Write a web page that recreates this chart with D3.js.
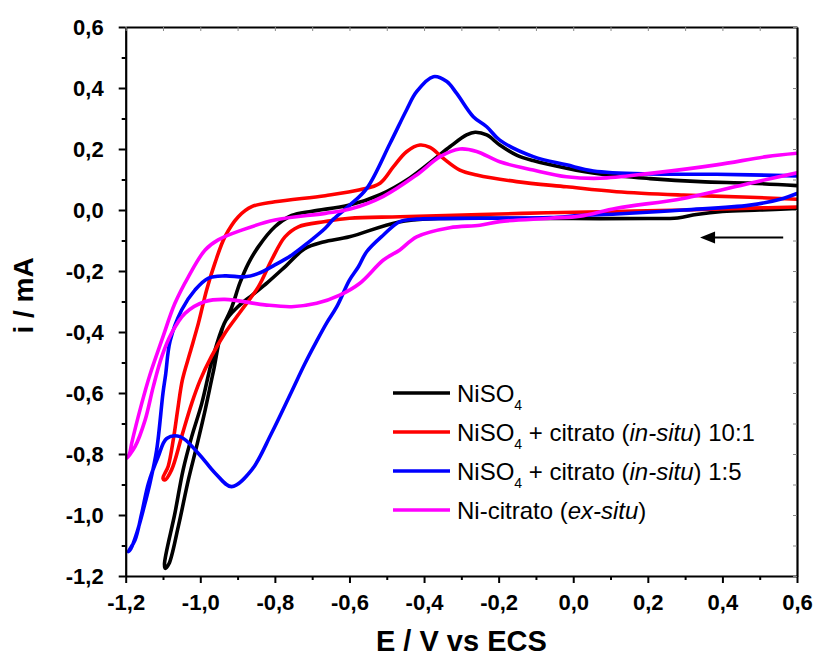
<!DOCTYPE html>
<html><head><meta charset="utf-8">
<script src="https://cdn.jsdelivr.net/npm/d3@7"></script>
<style>
html,body{margin:0;padding:0;background:#fff;}
svg{display:block;}
</style></head>
<body>
<svg id="chart" width="819" height="662"></svg>
<script>
// Tick values (E / V vs ECS and i / mA)
const xTicks = [-1.2,-1.0,-0.8,-0.6,-0.4,-0.2,0.0,0.2,0.4,0.6];
const yTicks = [-1.2,-1.0,-0.8,-0.6,-0.4,-0.2,0.0,0.2,0.4,0.6];
const xMinor = [-1.1,-0.9,-0.7,-0.5,-0.3,-0.1,0.1,0.3,0.5];
const yMinor = [-1.1,-0.9,-0.7,-0.5,-0.3,-0.1,0.1,0.3,0.5];

const seriesNames = ["NiSO4","NiSO4 + citrato (in-situ) 10:1","NiSO4 + citrato (in-situ) 1:5","Ni-citrato (ex-situ)"];
const seriesColors = ["#000000","#ff0000","#0000ff","#ff00ff"];

// Cyclic voltammograms [E, i], in scan order (from 0.6 V towards negative, then back)
const niso4 = [[0.6,0.005],[0.5,0.0],[0.4,-0.005],[0.33,-0.015],[0.28,-0.026],[0.2,-0.028],[0.0,-0.028],[-0.2,-0.027],[-0.36,-0.028],[-0.47,-0.04],[-0.6,-0.088],[-0.67,-0.105],[-0.72,-0.127],[-0.77,-0.183],[-0.82,-0.238],[-0.86,-0.278],[-0.9,-0.318],[-0.935,-0.37],[-0.965,-0.53],[-0.987,-0.656],[-1.01,-0.776],[-1.032,-0.885],[-1.059,-1.038],[-1.084,-1.16],[-1.094,-1.175],[-1.096,-1.16],[-1.068,-0.994],[-1.046,-0.852],[-1.023,-0.743],[-0.996,-0.634],[-0.97,-0.5],[-0.943,-0.393],[-0.916,-0.32],[-0.894,-0.24],[-0.871,-0.175],[-0.844,-0.12],[-0.8,-0.055],[-0.755,-0.018],[-0.7,-0.004],[-0.6,0.016],[-0.518,0.05],[-0.438,0.105],[-0.375,0.164],[-0.33,0.208],[-0.286,0.246],[-0.263,0.255],[-0.232,0.246],[-0.197,0.213],[-0.152,0.18],[-0.108,0.162],[-0.018,0.137],[0.072,0.118],[0.206,0.103],[0.34,0.093],[0.474,0.088],[0.6,0.08]];

const citrato10 = [[0.6,0.01],[0.474,0.006],[0.3,0.0],[0.116,-0.005],[-0.07,-0.009],[-0.25,-0.015],[-0.465,-0.022],[-0.6,-0.027],[-0.665,-0.038],[-0.737,-0.055],[-0.773,-0.088],[-0.809,-0.164],[-0.844,-0.251],[-0.889,-0.328],[-0.934,-0.404],[-0.97,-0.48],[-1.0,-0.557],[-1.023,-0.634],[-1.05,-0.743],[-1.077,-0.852],[-1.095,-0.885],[-1.1,-0.88],[-1.086,-0.84],[-1.072,-0.75],[-1.06,-0.65],[-1.048,-0.557],[-1.028,-0.47],[-1.005,-0.371],[-0.983,-0.262],[-0.961,-0.175],[-0.934,-0.088],[-0.898,-0.022],[-0.862,0.011],[-0.8,0.027],[-0.665,0.047],[-0.572,0.066],[-0.518,0.088],[-0.482,0.142],[-0.447,0.191],[-0.411,0.213],[-0.384,0.205],[-0.349,0.17],[-0.304,0.131],[-0.259,0.115],[-0.152,0.093],[-0.018,0.076],[0.116,0.06],[0.295,0.049],[0.474,0.042],[0.6,0.035]];

const citrato15 = [[0.6,0.054],[0.563,0.038],[0.474,0.016],[0.295,0.0],[0.116,-0.013],[0.018,-0.018],[-0.062,-0.025],[-0.25,-0.027],[-0.42,-0.03],[-0.465,-0.038],[-0.509,-0.082],[-0.554,-0.137],[-0.576,-0.186],[-0.6,-0.23],[-0.634,-0.317],[-0.661,-0.37],[-0.688,-0.43],[-0.72,-0.505],[-0.755,-0.595],[-0.809,-0.732],[-0.862,-0.852],[-0.916,-0.907],[-0.96,-0.863],[-1.005,-0.798],[-1.054,-0.743],[-1.09,-0.749],[-1.113,-0.809],[-1.139,-0.896],[-1.157,-0.994],[-1.175,-1.082],[-1.193,-1.12],[-1.186,-1.11],[-1.168,-1.05],[-1.15,-0.97],[-1.135,-0.896],[-1.117,-0.787],[-1.1,-0.6],[-1.093,-0.54],[-1.081,-0.43],[-1.05,-0.328],[-1.014,-0.262],[-0.979,-0.224],[-0.934,-0.216],[-0.88,-0.219],[-0.844,-0.208],[-0.8,-0.18],[-0.755,-0.148],[-0.71,-0.106],[-0.665,-0.06],[-0.643,-0.03],[-0.6,0.015],[-0.554,0.07],[-0.491,0.219],[-0.447,0.328],[-0.42,0.388],[-0.375,0.437],[-0.339,0.421],[-0.313,0.383],[-0.268,0.306],[-0.232,0.273],[-0.197,0.229],[-0.107,0.175],[-0.018,0.148],[0.054,0.128],[0.206,0.118],[0.384,0.117],[0.6,0.112]];

const niCitrato = [[0.6,0.122],[0.474,0.088],[0.295,0.038],[0.116,0.006],[0.018,-0.02],[-0.062,-0.027],[-0.197,-0.038],[-0.25,-0.05],[-0.331,-0.058],[-0.42,-0.088],[-0.465,-0.131],[-0.509,-0.164],[-0.572,-0.24],[-0.626,-0.279],[-0.688,-0.306],[-0.755,-0.317],[-0.827,-0.311],[-0.934,-0.293],[-0.987,-0.3],[-1.041,-0.339],[-1.077,-0.404],[-1.103,-0.48],[-1.126,-0.579],[-1.148,-0.689],[-1.175,-0.776],[-1.197,-0.814],[-1.19,-0.8],[-1.184,-0.765],[-1.157,-0.634],[-1.135,-0.54],[-1.103,-0.426],[-1.068,-0.306],[-1.032,-0.219],[-0.987,-0.131],[-0.952,-0.098],[-0.889,-0.066],[-0.8,-0.033],[-0.665,-0.011],[-0.598,0.003],[-0.509,0.045],[-0.42,0.115],[-0.357,0.175],[-0.304,0.2],[-0.259,0.192],[-0.197,0.158],[-0.107,0.131],[-0.018,0.109],[0.072,0.104],[0.206,0.12],[0.384,0.148],[0.518,0.175],[0.6,0.186]];

// Scan-direction arrow (E tail -> head, at current i)
const arrowE = [0.563, 0.34];
const arrowI = -0.09;

const series = [niso4, citrato10, citrato15, niCitrato];

const svg = d3.select("#chart");
const FONT = "Arial, 'Liberation Sans', Helvetica, sans-serif";
const x = d3.scaleLinear().domain([-1.2,0.6]).range([125.7,797]);
const y = d3.scaleLinear().domain([-1.2,0.6]).range([576,27]);

const fmt = d => { const v = Math.round(d*10)/10; return (v<0?"-":"") + Math.abs(v).toFixed(1).replace(".",","); };

svg.append("clipPath").attr("id","clip").append("rect")
  .attr("x",x(-1.2)).attr("y",y(0.6)).attr("width",x(0.6)-x(-1.2)).attr("height",y(-1.2)-y(0.6));

const line = d3.line().x(d=>x(d[0])).y(d=>y(d[1])).curve(d3.curveCatmullRom.alpha(0.5));
const g = svg.append("g").attr("clip-path","url(#clip)");
series.forEach((s,k)=>{
  g.append("path").datum(s).attr("d",line)
    .attr("fill","none").attr("stroke",seriesColors[k]).attr("stroke-width",3.6)
    .attr("stroke-linejoin","round").attr("stroke-linecap","round");
});

function styleAxis(sel, fs){
  sel.selectAll("path.domain").attr("stroke","#000").attr("stroke-width",2.2);
  sel.selectAll(".tick line").attr("stroke","#000").attr("stroke-width",2);
  sel.selectAll(".tick text").attr("font-family",FONT).attr("font-weight","bold").attr("font-size",fs).attr("fill","#000");
}
const xAxis = svg.append("g").attr("transform",`translate(0,${y(-1.2)})`)
  .call(d3.axisBottom(x).tickValues(xTicks).tickFormat(fmt).tickSize(7).tickSizeOuter(0).tickPadding(11));
styleAxis(xAxis, 22);
const xMin = svg.append("g").attr("transform",`translate(0,${y(-1.2)})`)
  .call(d3.axisBottom(x).tickValues(xMinor).tickFormat("").tickSize(4).tickSizeOuter(0));
styleAxis(xMin, 22); xMin.select("path.domain").remove();

const yAxis = svg.append("g").attr("transform",`translate(${x(-1.2)},0)`)
  .call(d3.axisLeft(y).tickValues(yTicks).tickFormat(fmt).tickSize(7).tickSizeOuter(0).tickPadding(15));
styleAxis(yAxis, 22);
const yMin = svg.append("g").attr("transform",`translate(${x(-1.2)},0)`)
  .call(d3.axisLeft(y).tickValues(yMinor).tickFormat("").tickSize(4).tickSizeOuter(0));
styleAxis(yMin, 22); yMin.select("path.domain").remove();

const xTop = svg.append("g").attr("transform",`translate(0,${y(0.6)})`)
  .call(d3.axisTop(x).tickValues(xTicks.concat(xMinor)).tickFormat("").tickSize(-4).tickSizeOuter(0));
xTop.selectAll("path.domain").attr("stroke","#000").attr("stroke-width",2.2);
xTop.selectAll(".tick line").attr("stroke","#888").attr("stroke-width",1);
const yRight = svg.append("g").attr("transform",`translate(${x(0.6)},0)`)
  .call(d3.axisRight(y).tickValues(yTicks.concat(yMinor)).tickFormat("").tickSize(-4).tickSizeOuter(0));
yRight.selectAll("path.domain").attr("stroke","#000").attr("stroke-width",2.2);
yRight.selectAll(".tick line").attr("stroke","#888").attr("stroke-width",1);

svg.append("text").attr("x",(x(-1.2)+x(0.6))/2).attr("y",651).attr("text-anchor","middle")
  .attr("font-family",FONT).attr("font-weight","bold").attr("font-size",29).text("E / V vs ECS");
svg.append("text").attr("transform",`translate(33,${(y(-1.2)+y(0.6))/2 - 6}) rotate(-90)`).attr("text-anchor","middle")
  .attr("font-family",FONT).attr("font-weight","bold").attr("font-size",28).text("i / mA");

// arrow
const ax0 = x(arrowE[0]), ax1 = x(arrowE[1]), ay = y(arrowI);
svg.append("line").attr("x1",ax0).attr("x2",ax1+12).attr("y1",ay).attr("y2",ay)
  .attr("stroke","#000").attr("stroke-width",2);
svg.append("path").attr("d",`M${ax1},${ay} L${ax1+15},${ay-6} L${ax1+15},${ay+6} Z`).attr("fill","#000");

// legend
const leg = svg.append("g");
const legParts = [
  [["NiSO",""],["4","sub"]],
  [["NiSO",""],["4","sub"],[" + citrato (",""],["in-situ","it"],[") 10:1",""]],
  [["NiSO",""],["4","sub"],[" + citrato (",""],["in-situ","it"],[") 1:5",""]],
  [["Ni-citrato (",""],["ex-situ","it"],[")",""]]
];
legParts.forEach((parts,k)=>{
  const yy = 393 + k*39;
  leg.append("line").attr("x1",393).attr("x2",450).attr("y1",yy).attr("y2",yy)
    .attr("stroke",seriesColors[k]).attr("stroke-width",3.6);
  const t = leg.append("text").attr("x",457).attr("y",yy+9).attr("font-family",FONT).attr("font-size",24).attr("fill","#000");
  parts.forEach((p,j)=>{
    const ts = t.append("tspan").text(p[0]);
    if(p[1]==="sub"){ ts.attr("font-size",14).attr("dy",8); }
    else if(p[1]==="it"){ ts.attr("font-style","italic"); }
    if(p[1]!=="sub" && j>0 && parts[j-1][1]==="sub") ts.attr("dy",-8);
  });
});
</script>
</body></html>
